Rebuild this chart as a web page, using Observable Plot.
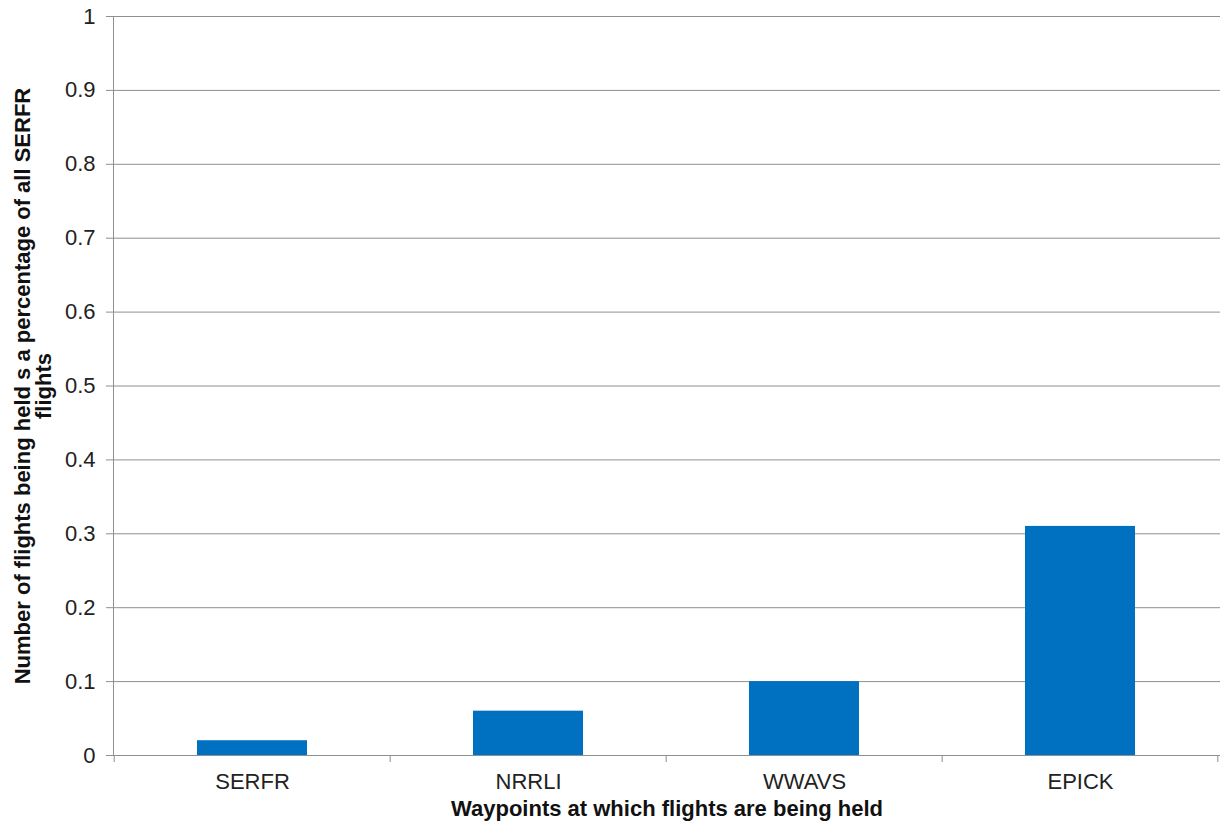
<!DOCTYPE html>
<html>
<head>
<meta charset="utf-8">
<script src="https://cdn.jsdelivr.net/npm/d3@7"></script>
<script src="https://cdn.jsdelivr.net/npm/@observablehq/plot@0.6"></script>
<style>
  html, body { margin: 0; padding: 0; background: #fff; }
  svg { font-family: "Liberation Sans", Arial, sans-serif; }
</style>
</head>
<body>
<div id="chart"></div>
<script>
const categories = ["SERFR", "NRRLI", "WWAVS", "EPICK"];
const values = [0.02, 0.06, 0.10, 0.31];
const yTicks = [0, 0.1, 0.2, 0.3, 0.4, 0.5, 0.6, 0.7, 0.8, 0.9, 1];
const xTitle = "Waypoints at which flights are being held";
const yTitle = "Number of flights being held s a percentage of all SERFR\nflights";

const data = categories.map((c, i) => ({category: c, value: values[i]}));

const gridColor = "#8f8f8f";

const boundaryTicks = (index, scales, values, dims) => {
  const x = scales.x;
  const step = x.step ? x.step() : 0;
  const pi = 0.6;
  const g = d3.create("svg:g");
  const positions = categories.map(c => x(c) - step * pi / 2);
  positions.push(x(categories[categories.length - 1]) + x.bandwidth() + step * pi / 2);
  const y0 = dims.height - dims.marginBottom;
  for (const p of positions) {
    g.append("line")
      .attr("x1", p).attr("x2", p)
      .attr("y1", y0).attr("y2", y0 + 7)
      .attr("stroke", gridColor).attr("stroke-width", 1);
  }
  return g.node();
};

const yAxisLine = (index, scales, values, dims) => {
  const g = d3.create("svg:g");
  g.append("line")
    .attr("x1", dims.marginLeft + 0.5).attr("x2", dims.marginLeft + 0.5)
    .attr("y1", dims.marginTop).attr("y2", dims.height - dims.marginBottom)
    .attr("stroke", gridColor);
  return g.node();
};

const chart = Plot.plot({
  width: 1220,
  height: 831,
  marginLeft: 113,
  marginRight: 0,
  marginTop: 16,
  marginBottom: 76,
  style: {fontFamily: "'Liberation Sans', Arial, sans-serif", background: "#fff"},
  x: {domain: categories, paddingInner: 0.6, paddingOuter: 0.3, label: null},
  y: {domain: [0, 1], label: null},
  marks: [
    Plot.gridY(yTicks, {stroke: gridColor, strokeOpacity: 1, strokeWidth: 1}),
    Plot.barY(data, {x: "category", y: "value", fill: "#0070C0"}),
    Plot.ruleY([0], {stroke: gridColor, strokeWidth: 1}),
    Plot.ruleY([0], {render: yAxisLine}),
    Plot.axisY(yTicks, {
      tickSize: 7, tickPadding: 11, fontSize: 22, fill: "#222",
      stroke: gridColor, tickFormat: d => String(d), label: null
    }),
    Plot.axisX({tickSize: 0, tickPadding: 18, fontSize: 22, fill: "#222", label: null}),
    Plot.ruleY([0], {render: boundaryTicks}),
    Plot.text([xTitle], {
      frameAnchor: "bottom", dy: 60, fontSize: 22, fontWeight: "bold", fill: "#111"
    }),
    Plot.text([yTitle], {
      frameAnchor: "left", dx: -80, rotate: -90, fontSize: 22, fontWeight: "bold",
      fill: "#111", lineHeight: 0.95, lineAnchor: "middle", textAnchor: "middle"
    })
  ]
});

document.getElementById("chart").appendChild(chart);
</script>
</body>
</html>
